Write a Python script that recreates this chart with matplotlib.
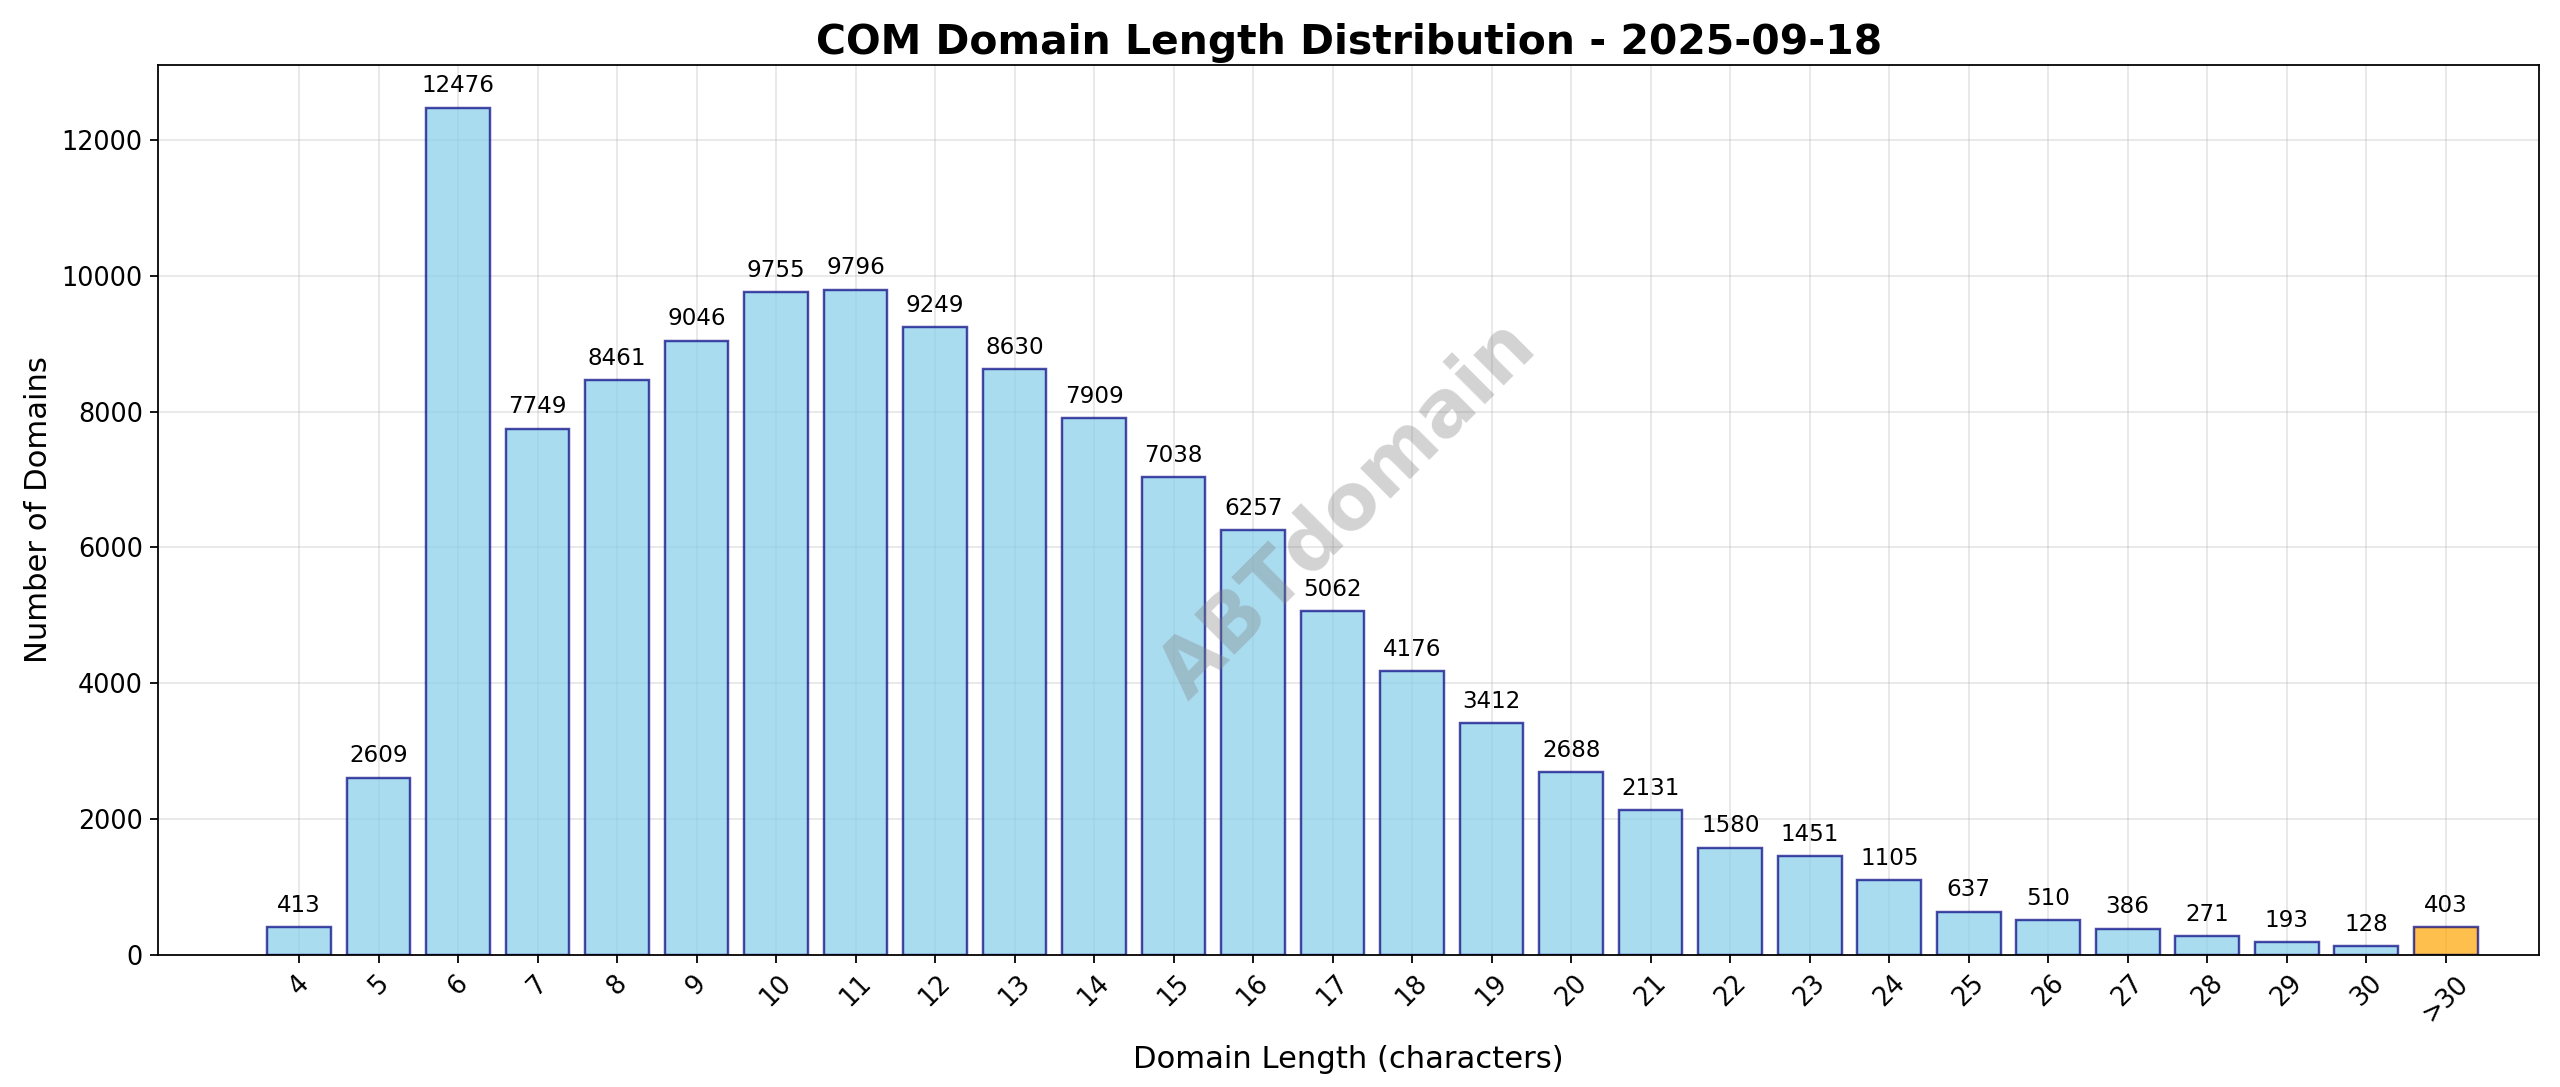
import numpy as np
import matplotlib
matplotlib.use("Agg")
import matplotlib.pyplot as plt

lengths = ["4", "5", "6", "7", "8", "9", "10", "11", "12", "13", "14", "15", "16", "17",
           "18", "19", "20", "21", "22", "23", "24", "25", "26", "27", "28", "29", "30", ">30"]
counts = [413, 2609, 12476, 7749, 8461, 9046, 9755, 9796, 9249, 8630, 7909, 7038, 6257, 5062,
          4176, 3412, 2688, 2131, 1580, 1451, 1105, 637, 510, 386, 271, 193, 128, 403]

DPI = 160
S = 1.15  # font scale vs the reference
plt.rcParams["font.size"] = 10 * S

# layout measured on the reference as shown at 1568x666
W, H = 1568, 666
fig = plt.figure(figsize=(2560 / DPI, 1087 / DPI), dpi=DPI)
ax = fig.add_axes([97 / W, 1 - 585 / H, (1555 - 97) / W, (585 - 40) / H])

x = np.arange(len(lengths))
colors = ["skyblue"] * (len(lengths) - 1) + ["orange"]
bars = ax.bar(x, counts, width=0.8, color=colors, alpha=0.7, linewidth=1.1)
for b in bars:
    b.set_edgecolor((0, 0, 0.5, 0.7))

for xi, c in zip(x, counts):
    ax.text(xi, c + 150, str(c), ha="center", va="bottom", fontsize=9 * S)

ax.set_xticks(x)
ax.set_xticklabels(lengths, rotation=45)
ax.set_xlim(-1.77, 28.17)
ax.set_ylim(0, 13100)
ax.grid(True, alpha=0.3)
ax.set_axisbelow(True)
ax.set_xlabel("Domain Length (characters)", fontsize=12 * S, labelpad=8)
ax.set_ylabel("Number of Domains", fontsize=12 * S)
ax.set_title("COM Domain Length Distribution - 2025-09-18", fontsize=16 * S,
             fontweight="bold", pad=5)

ax.text(0.5, 0.5, "ABTdomain", transform=ax.transAxes, fontsize=35, color="gray",
        alpha=0.35, fontweight="bold", rotation=45, ha="center", va="center")

fig.savefig("out.png", dpi=DPI)
